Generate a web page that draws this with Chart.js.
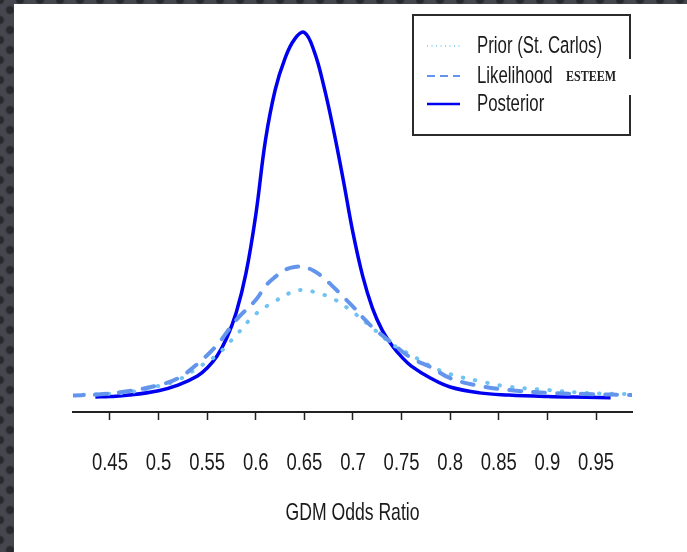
<!DOCTYPE html>
<html>
<head>
<meta charset="utf-8">
<title>GDM Odds Ratio</title>
<script src="https://cdn.jsdelivr.net/npm/chart.js@4.4.1/dist/chart.umd.min.js"></script>
<style>
  html, body { margin: 0; padding: 0; }
  body {
    width: 687px; height: 552px; overflow: hidden; position: relative;
    background-color: #44474d;
    background-image:
      radial-gradient(circle at 50% 50%, #26292d 0, #26292d 3px, transparent 5px),
      radial-gradient(circle at 50% 50%, #26292d 0, #26292d 3px, transparent 5px);
    background-size: 20px 20px, 20px 20px;
    background-position: 0 0, 10px 10px;
  }
  #panel { position: absolute; left: 14px; top: 4px; width: 673px; height: 548px; background: #fff; }
  canvas { display: block; }
</style>
</head>
<body>
<div id="panel"><canvas id="myChart" width="673" height="548"></canvas></div>
<script>
// density curves

// x axis ticks
const tickValues = [0.45, 0.5, 0.55, 0.6, 0.65, 0.7, 0.75, 0.8, 0.85, 0.9, 0.95];
const tickLabels = ["0.45", "0.5", "0.55", "0.6", "0.65", "0.7", "0.75", "0.8", "0.85", "0.9", "0.95"];
const xTitle = "GDM Odds Ratio";

// prior (St. Carlos)
const priorX = [0.41, 0.44, 0.47, 0.50, 0.52, 0.54, 0.56, 0.58, 0.60, 0.62, 0.64, 0.65, 0.66, 0.68, 0.70, 0.72, 0.74, 0.76, 0.78, 0.80, 0.83, 0.86, 0.90, 0.94, 0.99];
const priorY = [0.08, 0.11, 0.16, 0.33, 0.49, 0.82, 1.17, 1.72, 2.29, 2.64, 2.92, 2.94, 2.89, 2.70, 2.34, 1.91, 1.47, 1.17, 0.87, 0.65, 0.46, 0.31, 0.22, 0.14, 0.10];

// likelihood (ESTEEM)
const likeX = [0.41, 0.44, 0.47, 0.50, 0.52, 0.54, 0.56, 0.58, 0.60, 0.61, 0.62, 0.63, 0.64, 0.65, 0.66, 0.67, 0.68, 0.69, 0.70, 0.71, 0.72, 0.74, 0.76, 0.78, 0.80, 0.83, 0.86, 0.90, 0.94, 0.99];
const likeY = [0.07, 0.10, 0.19, 0.35, 0.54, 0.93, 1.44, 2.13, 2.67, 3.05, 3.30, 3.49, 3.57, 3.57, 3.46, 3.27, 3.02, 2.76, 2.49, 2.20, 1.93, 1.50, 1.09, 0.84, 0.54, 0.33, 0.22, 0.14, 0.11, 0.08];

// posterior
const postX = [0.435, 0.45, 0.47, 0.50, 0.52, 0.54, 0.55, 0.56, 0.57, 0.58, 0.59, 0.60, 0.61, 0.62, 0.63, 0.64, 0.65, 0.66, 0.67, 0.68, 0.69, 0.70, 0.71, 0.72, 0.73, 0.74, 0.75, 0.76, 0.78, 0.80, 0.83, 0.86, 0.90, 0.94, 0.965];
const postY = [0.03, 0.04, 0.08, 0.20, 0.35, 0.60, 0.82, 1.14, 1.63, 2.34, 3.41, 4.99, 7.03, 8.40, 9.25, 9.78, 9.96, 9.45, 8.50, 7.30, 5.94, 4.50, 3.32, 2.45, 1.85, 1.44, 1.12, 0.87, 0.54, 0.30, 0.14, 0.08, 0.04, 0.02, 0.01];

const sans = "'Liberation Sans', Arial, sans-serif";

function pts(xs, ys) {
  return xs.map((x, i) => ({ x: x, y: ys[i] }));
}

// narrow, slightly tall text like the R/pdf export
function squeezeText(ctx, text, x, y, size, sx, sy, align) {
  ctx.save();
  ctx.translate(x, y);
  ctx.scale(sx, sy);
  ctx.font = size + "px " + sans;
  ctx.fillStyle = "#1a1a1a";
  ctx.textAlign = align;
  ctx.textBaseline = "middle";
  ctx.fillText(text, 0, 0);
  ctx.restore();
}

// tick labels + axis title, placed with the x scale
const axisText = {
  id: "axisText",
  afterDraw(chart) {
    const ctx = chart.ctx;
    const xs = chart.scales.x;
    tickValues.forEach((v, i) => {
      squeezeText(ctx, tickLabels[i], xs.getPixelForValue(v), 459, 22, 0.84, 1.12, "center");
    });
    const mid = (chart.chartArea.left + chart.chartArea.right) / 2;
    squeezeText(ctx, xTitle, mid, 509, 22, 0.8, 1.1, "center");
  }
};

// legend box drawn by hand (R style)
const legendBox = {
  id: "legendBox",
  afterDraw(chart) {
    const ctx = chart.ctx;
    ctx.save();
    ctx.strokeStyle = "#2b2b2b";
    ctx.lineWidth = 2;
    ctx.strokeRect(399, 11, 217, 120);

    const rows = [
      { label: "Prior (St. Carlos)", color: "#77c5f2", dash: [1, 3.5], width: 1.6, y: 42 },
      { label: "Likelihood", color: "#6495ED", dash: [8, 5], width: 2, y: 72 },
      { label: "Posterior", color: "#0000f0", dash: [], width: 2.5, y: 100 }
    ];
    rows.forEach((r) => {
      ctx.beginPath();
      ctx.setLineDash(r.dash);
      ctx.strokeStyle = r.color;
      ctx.lineWidth = r.width;
      ctx.moveTo(413, r.y);
      ctx.lineTo(446, r.y);
      ctx.stroke();
      ctx.setLineDash([]);
      squeezeText(ctx, r.label, 463, r.y, 21, 0.8, 1.18, "left");
    });

    // ESTEEM tag over the right edge
    ctx.fillStyle = "#fff";
    ctx.fillRect(548, 55, 78, 36);
    ctx.save();
    ctx.translate(552, 73);
    ctx.scale(1, 1.25);
    ctx.fillStyle = "#222";
    ctx.font = "bold 12px 'Liberation Serif', 'DejaVu Serif', serif";
    ctx.textBaseline = "middle";
    ctx.fillText("ESTEEM", 0, 0);
    ctx.restore();
    ctx.restore();
  }
};

var ctx = document.getElementById("myChart").getContext("2d");
var myChart = new Chart(ctx, {
  type: "line",
  data: {
    datasets: [
      {
        label: "Likelihood",
        data: pts(likeX, likeY),
        borderColor: "#6495ED",
        borderWidth: 4,
        borderDash: [12, 12],
        borderCapStyle: "round",
        pointRadius: 0,
        tension: 0.4,
        fill: false
      },
      {
        label: "Prior (St. Carlos)",
        data: pts(priorX, priorY),
        borderColor: "#72c3f2",
        borderWidth: 4,
        borderDash: [0.5, 12],
        borderCapStyle: "round",
        pointRadius: 0,
        tension: 0.4,
        fill: false
      },
      {
        label: "Posterior",
        data: pts(postX, postY),
        borderColor: "#0000f0",
        borderWidth: 3.5,
        pointRadius: 0,
        tension: 0.4,
        fill: false
      }
    ]
  },
  options: {
    responsive: false,
    animation: false,
    layout: { padding: { left: 59, right: 55, top: 16, bottom: 0 } },
    plugins: {
      legend: { display: false },
      tooltip: { enabled: false }
    },
    scales: {
      x: {
        type: "linear",
        min: 0.412,
        max: 0.987,
        afterBuildTicks: (s) => { s.ticks = tickValues.map((v) => ({ value: v })); },
        afterFit: (s) => { s.height = 140; },
        grid: { drawOnChartArea: false, drawTicks: true, tickLength: 8, tickColor: "#222", tickWidth: 1.5 },
        border: { display: true, color: "#222", width: 2 },
        ticks: { display: false, autoSkip: false },
        title: { display: false }
      },
      y: { display: false, min: -0.381, max: 10.3 }
    }
  },
  plugins: [axisText, legendBox]
});
</script>
</body>
</html>
